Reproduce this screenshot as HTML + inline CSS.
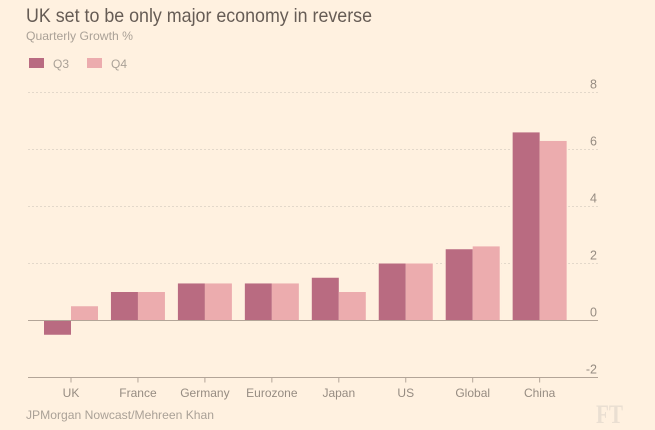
<!DOCTYPE html>
<html>
<head>
<meta charset="utf-8">
<style>
html,body{margin:0;padding:0;background:#fff1e0;}
svg{display:block;font-family:"Liberation Sans",sans-serif;}
</style>
</head>
<body>
<svg id="chart" width="655" height="430" viewBox="0 0 655 430" xmlns="http://www.w3.org/2000/svg">
<rect width="655" height="430" fill="#fff1e0"/>
<text x="26" y="22" font-size="19.5" fill="#665c55" textLength="346" lengthAdjust="spacingAndGlyphs">UK set to be only major economy in reverse</text>
<text x="26" y="40" font-size="12" fill="#aaa197" textLength="107" lengthAdjust="spacingAndGlyphs">Quarterly Growth %</text>
<rect x="29" y="58" width="15" height="10" fill="#b96b81"/>
<text x="53" y="68" font-size="12" fill="#aaa197">Q3</text>
<rect x="87" y="58" width="15" height="10" fill="#ecacae"/>
<text x="111" y="68" font-size="12" fill="#aaa197">Q4</text>
<g id="plot"></g>
<text x="26" y="419" font-size="12" fill="#aaa197" textLength="188" lengthAdjust="spacingAndGlyphs">JPMorgan Nowcast/Mehreen Khan</text>
<text x="596" y="423" font-family="'Liberation Serif',serif" font-weight="bold" font-size="26" fill="#eadfd2" textLength="27" lengthAdjust="spacingAndGlyphs">FT</text>
</svg>
<script>
const categories = ['UK','France','Germany','Eurozone','Japan','US','Global','China'];
const q3Values = [-0.5,1,1.3,1.3,1.5,2,2.5,6.6];
const q4Values = [0.5,1,1.3,1.3,1,2,2.6,6.3];
const yTicks = [8,6,4,2,0,-2];

const NS = 'http://www.w3.org/2000/svg';
const plot = document.getElementById('plot');
const xLeft = 28, xRight = 598;
function yScale(v){ return 320.5 - v * 28.5; }
function xScale(i){ return 71 + i * 66.95; }
function make(tag, attrs, parent){
  const el = document.createElementNS(NS, tag);
  for (const k in attrs) el.setAttribute(k, attrs[k]);
  (parent || plot).appendChild(el);
  return el;
}

yTicks.forEach(function(t){
  const y = yScale(t);
  if (t > 0) {
    const grid = make('line', {x1:xLeft, x2:xRight, y1:y, y2:y, stroke:'#e3d8ca', 'stroke-width':1, 'stroke-dasharray':'2 2'});
    
    
  }
  const label = make('text', {x:597, y:y - 4, 'text-anchor':'end', 'font-size':12.5, fill:'#968c82'});
  label.textContent = String(t);
  
  
});

const barW = 27;
function drawBar(i, v, offset, color, seriesName){
  const y0 = yScale(0), y1 = yScale(v);
  const top = Math.min(y0, y1), h = Math.abs(y1 - y0);
  const x = xScale(i) + offset;
  const halo = make('rect', {x:x - 1.5, y:top - 1.5, width:barW + 3, height:h + 1.5, fill:'#fff1e0'});
  
  
  return {x:x, top:top, h:h, color:color, seriesName:seriesName, cat:categories[i]};
}
const bars = [];
categories.forEach(function(c, i){
  bars.push(drawBar(i, q3Values[i], -barW, '#b96b81', 'q3'));
  bars.push(drawBar(i, q4Values[i], 0, '#ecacae', 'q4'));
});
bars.forEach(function(b){
  const r = make('rect', {x:b.x, y:b.top, width:barW, height:b.h, fill:b.color});
  
  
});

const zeroLine = make('line', {x1:xLeft, x2:xRight, y1:yScale(0), y2:yScale(0), stroke:'#b3a598', 'stroke-width':1});



const axisLine = make('line', {x1:xLeft, x2:xRight, y1:yScale(-2), y2:yScale(-2), stroke:'#b3a598', 'stroke-width':1});



categories.forEach(function(c, i){
  const x = xScale(i);
  const tick = make('line', {x1:x, x2:x, y1:yScale(-2), y2:yScale(-2) + 5, stroke:'#b3a598', 'stroke-width':1});
  
  
  const label = make('text', {x:x, y:397, 'text-anchor':'middle', 'font-size':12, fill:'#968c82'});
  label.textContent = c;
  
  
});
</script>
</body>
</html>
